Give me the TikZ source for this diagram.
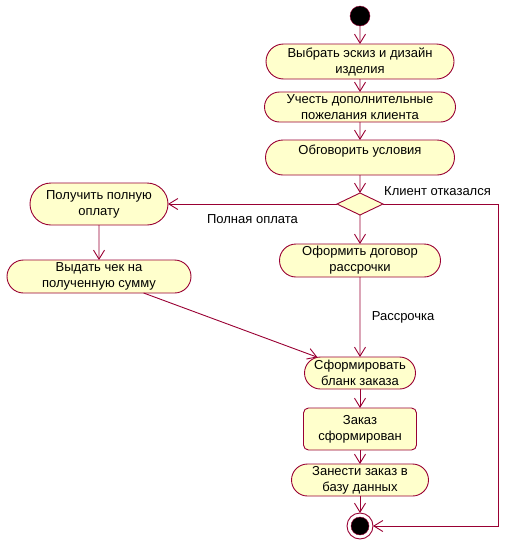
\documentclass[tikz,border=0pt]{standalone}
\usepackage{fontspec}
\setmainfont{Liberation Sans}
\usetikzlibrary{positioning,shapes.misc,shapes.geometric,arrows.meta}
\definecolor{umlline}{RGB}{153,0,51}
\definecolor{umlfill}{RGB}{255,255,204}

\begin{document}
\begin{tikzpicture}[x=1pt,y=-1pt,font=\fontsize{13}{16}\selectfont,
    activity/.style={rounded rectangle,draw=umlline,fill=umlfill,line width=0.9pt,align=center,inner sep=0pt,outer sep=0pt},
    box/.style={rectangle,rounded corners=5pt,draw=umlline,fill=umlfill,line width=0.9pt,align=center,inner sep=0pt,outer sep=0pt},
    decision/.style={diamond,draw=umlline,fill=umlfill,line width=0.9pt,inner sep=0pt,outer sep=0pt,minimum width=46pt,minimum height=22pt},
    start/.style={circle,draw=umlline,fill=black,inner sep=0pt,outer sep=0pt,minimum size=20pt},
    finish/.style={circle,draw=umlline,fill=white,line width=0.9pt,inner sep=0pt,outer sep=0pt,minimum size=26pt},
    flow/.style={draw=umlline,line width=0.9pt,-{Straight Barb[length=9pt,width=11pt]}}]
        \useasboundingbox (0,0) rectangle (519,552);
        \node[start] (start) at (360,16) {};
        \node[activity,minimum width=188pt,minimum height=35pt] (choose) [below=18pt of start] {Выбрать эскиз и дизайн\\изделия};
        \node[activity,minimum width=191pt,minimum height=30pt] (wishes) [below=13pt of choose] {Учесть дополнительные\\пожелания клиента};
        \node[activity,minimum width=189pt,minimum height=35pt] (terms) [below=18pt of wishes] {Обговорить условия\\\mbox{}};
        \node[decision] (decide) [below=18pt of terms] {};
        \node[activity,minimum width=138pt,minimum height=42pt] (fullpay) [left=169pt of decide] {Получить полную\\оплату};
        \node[activity,minimum width=184pt,minimum height=33pt] (receipt) [below=35pt of fullpay] {Выдать чек на\\полученную сумму};
        \node[activity,minimum width=161pt,minimum height=33pt] (contract) [below=29pt of decide] {Оформить договор\\рассрочки};
        \node[activity,minimum width=111pt,minimum height=32pt] (blank) [below=80pt of contract] {Сформировать\\бланк заказа};
        \node[box,minimum width=113pt,minimum height=42pt] (done) [below=19pt of blank] {Заказ\\сформирован};
        \node[activity,minimum width=137pt,minimum height=32pt] (store) [below=14pt of done] {Занести заказ в\\базу данных};
        \node[finish] (end) [below=17pt of store] {};
        \filldraw[fill=black,draw=umlline] (end) circle (9pt);
        \coordinate[right=125pt of end] (rim);

        \foreach \a/\b in {start/choose,choose/wishes,wishes/terms,terms/decide,decide/contract,fullpay/receipt,receipt/blank,blank/done,done/store,store/end}{
            \draw[flow] (\a)--(\b);
        }
        \draw[flow] (decide.west)--(fullpay.east)
            node[midway,anchor=base,yshift=-19pt] {Полная оплата};
        \draw[flow] (contract)--(blank)
            node[midway,right=8pt] {Рассрочка};
        \draw[flow] (decide.east) -| (rim) -- (end);
        \node[anchor=base west,inner sep=0pt] (refuse) at ([xshift=1pt,yshift=9pt]decide.east) {Клиент отказался};
    \end{tikzpicture}
\end{document}
